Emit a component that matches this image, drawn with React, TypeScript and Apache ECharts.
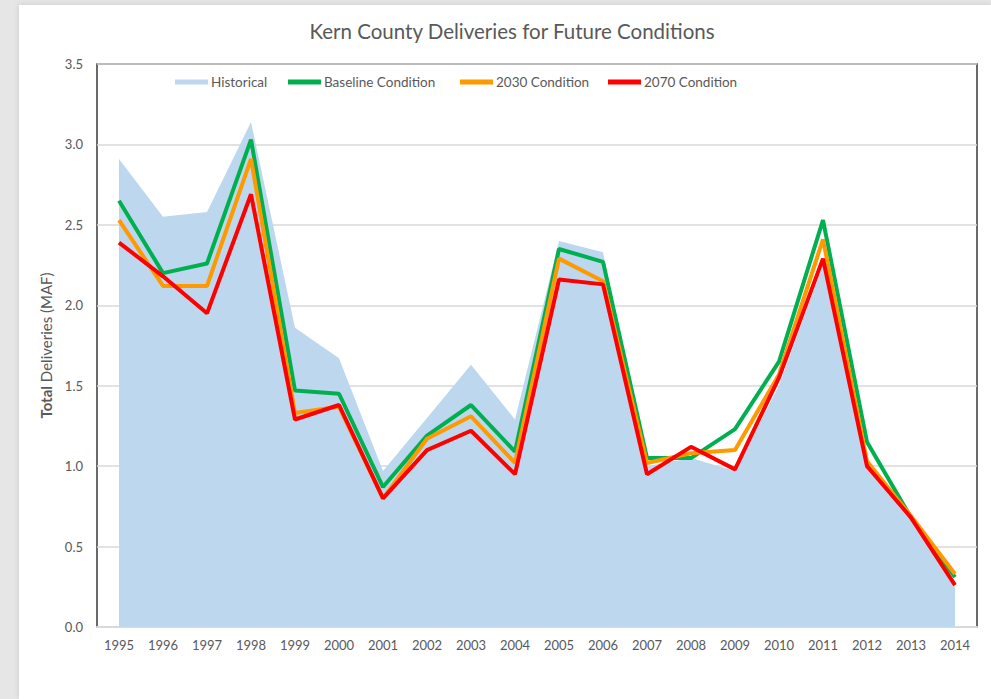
import React, { useEffect, useRef } from "react";
import * as echarts from "echarts";

const years = ["1995","1996","1997","1998","1999","2000","2001","2002","2003","2004","2005","2006","2007","2008","2009","2010","2011","2012","2013","2014"];
const historical = [2.91, 2.55, 2.58, 3.14, 1.86, 1.67, 0.97, 1.30, 1.63, 1.29, 2.40, 2.33, 1.0, 1.05, 0.97, 1.50, 2.25, 0.98, 0.66, 0.25];
const baseline = [2.65, 2.20, 2.26, 3.03, 1.47, 1.45, 0.87, 1.19, 1.38, 1.09, 2.35, 2.27, 1.05, 1.05, 1.23, 1.65, 2.53, 1.15, 0.68, 0.31];
const cond2030 = [2.53, 2.12, 2.12, 2.91, 1.33, 1.37, 0.80, 1.17, 1.31, 1.02, 2.29, 2.15, 1.02, 1.08, 1.10, 1.57, 2.41, 1.03, 0.69, 0.33];
const cond2070 = [2.39, 2.18, 1.95, 2.69, 1.29, 1.38, 0.80, 1.10, 1.22, 0.95, 2.16, 2.13, 0.95, 1.12, 0.98, 1.55, 2.29, 1.00, 0.68, 0.26];
const yTicks = [0, 0.5, 1.0, 1.5, 2.0, 2.5, 3.0, 3.5];

const FONT = "Lato, 'Open Sans', sans-serif";
const GRAY = "#595959";

export default function App() {
  const ref = useRef<HTMLDivElement>(null);
  useEffect(() => {
    if (!ref.current) return;
    const chart = echarts.init(ref.current, undefined, { renderer: "svg" });
    const legendItem = (name: string, left: number) => ({
      data: [name],
      left,
      top: 75,
      icon: "rect",
      itemWidth: 33,
      itemHeight: 5,
      itemGap: 0,
      padding: 0,
      textStyle: { color: GRAY, fontSize: 13.5, fontFamily: FONT, padding: [0, 0, 0, -2] },
    });
    chart.setOption({
      animation: false,
      textStyle: { fontFamily: FONT },
      title: {
        text: "Kern County Deliveries for Future Conditions",
        left: 507,
        textAlign: "center",
        top: 15,
        textStyle: { color: GRAY, fontSize: 20.5, fontWeight: "normal", fontFamily: FONT },
      },
      legend: [
        legendItem("Historical", 175),
        legendItem("Baseline Condition", 288),
        legendItem("2030 Condition", 460),
        legendItem("2070 Condition", 608),
      ],
      grid: {
        left: 97,
        top: 64,
        right: 14,
        bottom: 72,
        show: true,
        borderColor: "#3a3a3a",
        borderWidth: 1.5,
        backgroundColor: "transparent",
      },
      xAxis: {
        type: "category",
        data: years,
        boundaryGap: true,
        axisLine: { show: true, lineStyle: { color: "#d9d9d9", width: 2 } },
        axisTick: { show: false },
        axisLabel: { color: GRAY, fontSize: 13, fontFamily: FONT, margin: 11, interval: 0 },
      },
      yAxis: {
        type: "value",
        min: yTicks[0],
        max: yTicks[yTicks.length - 1],
        interval: 0.5,
        name: "{b|Total} Deliveries (MAF)",
        nameLocation: "middle",
        nameRotate: 90,
        nameGap: 42,
        nameTextStyle: {
          color: GRAY,
          fontSize: 15,
          fontFamily: FONT,
          rich: { b: { fontWeight: "bold", color: GRAY, fontSize: 15, fontFamily: FONT } },
        },
        axisLine: { show: false },
        axisTick: { show: false },
        axisLabel: {
          color: GRAY,
          fontSize: 13,
          fontFamily: FONT,
          margin: 14,
          formatter: (v: number) => v.toFixed(1),
        },
        splitLine: { lineStyle: { color: "#d9d9d9", width: 1.5 } },
      },
      series: [
        {
          name: "Historical",
          type: "line",
          data: historical,
          symbol: "none",
          color: "#bdd7ee",
          lineStyle: { width: 0 },
          areaStyle: { color: "#bdd7ee", opacity: 1 },
          z: 1,
        },
        {
          name: "Baseline Condition",
          type: "line",
          data: baseline,
          symbol: "none",
          color: "#00b050",
          lineStyle: { width: 4, color: "#00b050" },
          z: 2,
        },
        {
          name: "2030 Condition",
          type: "line",
          data: cond2030,
          symbol: "none",
          color: "#ff9900",
          lineStyle: { width: 4, color: "#ff9900" },
          z: 3,
        },
        {
          name: "2070 Condition",
          type: "line",
          data: cond2070,
          symbol: "none",
          color: "#ff0000",
          lineStyle: { width: 4, color: "#ff0000" },
          z: 4,
        },
      ],
    });
    return () => chart.dispose();
  }, []);
  return (
    <div style={{ position: "fixed", left: 0, top: 0, width: 991, height: 699, background: "#e6e6e6", overflow: "hidden" }}>
      <div style={{ position: "absolute", left: 19, top: 5, right: 0, bottom: 0, background: "#ffffff", boxShadow: "0 0 6px rgba(0,0,0,0.12)" }} />
      <div ref={ref} style={{ position: "absolute", left: 0, top: 0, width: 991, height: 699 }} />
    </div>
  );
}
